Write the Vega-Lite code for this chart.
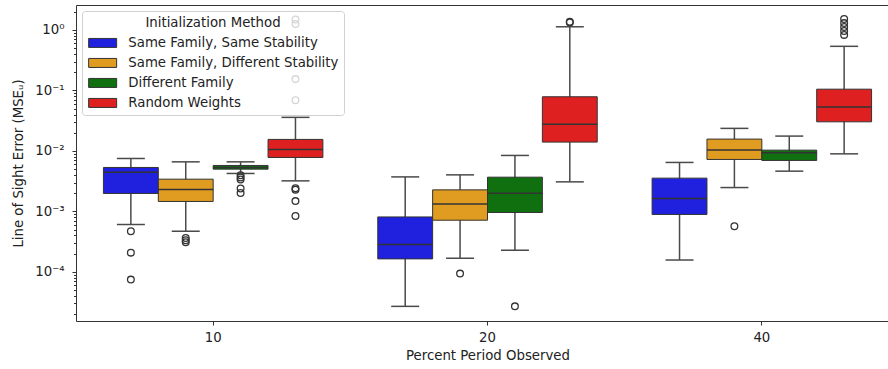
{
  "$schema": "https://vega.github.io/schema/vega-lite/v6.json",
  "width": 823,
  "height": 316,
  "autosize": {"type": "none"},
  "padding": {"left": 76, "top": 5, "right": 0, "bottom": 48},
  "config": {
    "font": "DejaVu Sans",
    "view": {"stroke": "#333", "strokeWidth": 1},
    "axis": {"grid": false, "domain": false, "labelFont": "DejaVu Sans", "titleFont": "DejaVu Sans", "labelFontSize": 13.3, "titleFontSize": 13.3, "titleFontWeight": "normal", "labelColor": "#222", "titleColor": "#222", "tickColor": "#333"},
    "legend": {"labelFont": "DejaVu Sans", "titleFont": "DejaVu Sans"}
  },
  "datasets": {
    "boxes": [
      {"pct": 10, "method": "Same Family, Same Stability", "lower": 0.000607, "q1": 0.00198, "median": 0.00446, "q3": 0.00533, "upper": 0.0075},
      {"pct": 10, "method": "Same Family, Different Stability", "lower": 0.00047, "q1": 0.00146, "median": 0.0023, "q3": 0.00341, "upper": 0.0066},
      {"pct": 10, "method": "Different Family", "lower": 0.00424, "q1": 0.005, "median": 0.00533, "q3": 0.00575, "upper": 0.0066},
      {"pct": 10, "method": "Random Weights", "lower": 0.0032, "q1": 0.0078, "median": 0.0106, "q3": 0.0155, "upper": 0.0359},
      {"pct": 20, "method": "Same Family, Same Stability", "lower": 0.0000269, "q1": 0.000164, "median": 0.000283, "q3": 0.00081, "upper": 0.00372},
      {"pct": 20, "method": "Same Family, Different Stability", "lower": 0.000168, "q1": 0.000715, "median": 0.00133, "q3": 0.00227, "upper": 0.00402},
      {"pct": 20, "method": "Different Family", "lower": 0.000228, "q1": 0.00096, "median": 0.002, "q3": 0.00368, "upper": 0.00842},
      {"pct": 20, "method": "Random Weights", "lower": 0.00308, "q1": 0.014, "median": 0.0275, "q3": 0.0787, "upper": 1.13},
      {"pct": 40, "method": "Same Family, Same Stability", "lower": 0.000157, "q1": 0.00089, "median": 0.00163, "q3": 0.00355, "upper": 0.00645},
      {"pct": 40, "method": "Same Family, Different Stability", "lower": 0.00248, "q1": 0.00723, "median": 0.0104, "q3": 0.0157, "upper": 0.0236},
      {"pct": 40, "method": "Different Family", "lower": 0.00463, "q1": 0.00696, "median": 0.0093, "q3": 0.0103, "upper": 0.0176},
      {"pct": 40, "method": "Random Weights", "lower": 0.00895, "q1": 0.0303, "median": 0.0531, "q3": 0.105, "upper": 0.537}
    ],
    "outliers": [
      {"pct": 10, "method": "Same Family, Same Stability", "value": 0.00047},
      {"pct": 10, "method": "Same Family, Same Stability", "value": 0.000208},
      {"pct": 10, "method": "Same Family, Same Stability", "value": 0.0000745},
      {"pct": 10, "method": "Same Family, Different Stability", "value": 0.000364},
      {"pct": 10, "method": "Same Family, Different Stability", "value": 0.000333},
      {"pct": 10, "method": "Same Family, Different Stability", "value": 0.000309},
      {"pct": 10, "method": "Different Family", "value": 0.00397},
      {"pct": 10, "method": "Different Family", "value": 0.00364},
      {"pct": 10, "method": "Different Family", "value": 0.00337},
      {"pct": 10, "method": "Different Family", "value": 0.00239},
      {"pct": 10, "method": "Different Family", "value": 0.00202},
      {"pct": 10, "method": "Random Weights", "value": 0.00242},
      {"pct": 10, "method": "Random Weights", "value": 0.00229},
      {"pct": 10, "method": "Random Weights", "value": 0.00148},
      {"pct": 10, "method": "Random Weights", "value": 0.00084},
      {"pct": 10, "method": "Random Weights", "value": 1.49},
      {"pct": 10, "method": "Random Weights", "value": 1.26},
      {"pct": 10, "method": "Random Weights", "value": 0.154},
      {"pct": 10, "method": "Random Weights", "value": 0.069},
      {"pct": 20, "method": "Same Family, Different Stability", "value": 0.0000936},
      {"pct": 20, "method": "Different Family", "value": 0.0000269},
      {"pct": 20, "method": "Random Weights", "value": 1.37},
      {"pct": 20, "method": "Random Weights", "value": 1.33},
      {"pct": 40, "method": "Same Family, Different Stability", "value": 0.000569},
      {"pct": 40, "method": "Random Weights", "value": 1.52},
      {"pct": 40, "method": "Random Weights", "value": 1.3},
      {"pct": 40, "method": "Random Weights", "value": 1.12},
      {"pct": 40, "method": "Random Weights", "value": 0.96},
      {"pct": 40, "method": "Random Weights", "value": 0.83}
    ]
  },
  "encoding": {
    "x": {"field": "pct", "type": "ordinal", "scale": {"paddingInner": 0, "paddingOuter": 0},
      "axis": {"title": "Percent Period Observed", "labelAngle": 0, "tickSize": 4, "labelPadding": 5, "titleY": 34, "titleBaseline": "middle"}},
    "xOffset": {"field": "method", "type": "nominal",
      "scale": {"domain": ["Same Family, Same Stability", "Same Family, Different Stability", "Different Family", "Random Weights"], "paddingInner": 0, "paddingOuter": 0.5}}
  },
  "layer": [
    {
      "data": {"name": "boxes"},
      "mark": {"type": "rule", "color": "#4a4a4a", "strokeWidth": 1.5},
      "encoding": {
        "y": {"field": "lower", "type": "quantitative",
          "scale": {"type": "log", "domain": [0.0000154, 2.59], "nice": false, "zero": false},
          "axis": {
            "title": "Line of Sight Error (MSEᵤ)",
            "titleX": -58, "titleBaseline": "middle",
            "values": [0.00002, 0.00003, 0.00004, 0.00005, 0.00006, 0.00007, 0.00008, 0.00009,
                       0.0001, 0.0002, 0.0003, 0.0004, 0.0005, 0.0006, 0.0007, 0.0008, 0.0009,
                       0.001, 0.002, 0.003, 0.004, 0.005, 0.006, 0.007, 0.008, 0.009,
                       0.01, 0.02, 0.03, 0.04, 0.05, 0.06, 0.07, 0.08, 0.09,
                       0.1, 0.2, 0.3, 0.4, 0.5, 0.6, 0.7, 0.8, 0.9, 1, 2],
            "labelExpr": "abs(log(datum.value)/LN10 - round(log(datum.value)/LN10)) > 0.001 ? '' : (round(log(datum.value)/LN10) == 0 ? '10⁰' : round(log(datum.value)/LN10) == -1 ? '10⁻¹' : round(log(datum.value)/LN10) == -2 ? '10⁻²' : round(log(datum.value)/LN10) == -3 ? '10⁻³' : '10⁻⁴')",
            "tickSize": {"condition": {"test": "abs(log(datum.value)/LN10 - round(log(datum.value)/LN10)) < 0.001", "value": 4}, "value": 2.5},
            "labelPadding": 8
          }},
        "y2": {"field": "upper"}
      }
    },
    {
      "data": {"name": "boxes"},
      "mark": {"type": "bar", "stroke": "#333", "strokeWidth": 1, "opacity": 1},
      "encoding": {
        "y": {"field": "q1", "type": "quantitative", "title": "Line of Sight Error (MSEᵤ)"},
        "y2": {"field": "q3"},
        "fill": {"field": "method", "type": "nominal",
          "scale": {"domain": ["Same Family, Same Stability", "Same Family, Different Stability", "Different Family", "Random Weights"],
                    "range": ["#2020df", "#df9c20", "#107010", "#df2020"]},
          "legend": {
            "title": "Initialization Method",
            "orient": "top-left", "offset": 6,
            "fillColor": "rgba(255,255,255,0.8)", "strokeColor": "#d0d0d0", "cornerRadius": 3,
            "padding": 5,
            "titleFontSize": 13.3, "titleFontWeight": "normal", "titleColor": "#222", "titleAnchor": "middle", "titlePadding": 7,
            "labelFontSize": 13.3, "labelColor": "#222", "labelOffset": 28, "labelLimit": 0,
            "symbolType": "M-1,-0.9H4.6V0.9H-1Z", "symbolSize": 100, "symbolStrokeColor": "#333", "symbolStrokeWidth": 1, "symbolOpacity": 1,
            "rowPadding": 5
          }}
      }
    },
    {
      "data": {"name": "boxes"},
      "mark": {"type": "tick", "color": "#333", "thickness": 1.5, "size": 54.8, "opacity": 1},
      "encoding": {
        "y": {"field": "median", "type": "quantitative", "title": "Line of Sight Error (MSEᵤ)"}
      }
    },
    {
      "data": {"name": "boxes"},
      "mark": {"type": "tick", "color": "#4a4a4a", "thickness": 1.5, "size": 28, "opacity": 1},
      "encoding": {
        "y": {"field": "upper", "type": "quantitative", "title": "Line of Sight Error (MSEᵤ)"}
      }
    },
    {
      "data": {"name": "boxes"},
      "mark": {"type": "tick", "color": "#4a4a4a", "thickness": 1.5, "size": 28, "opacity": 1},
      "encoding": {
        "y": {"field": "lower", "type": "quantitative", "title": "Line of Sight Error (MSEᵤ)"}
      }
    },
    {
      "data": {"name": "outliers"},
      "mark": {"type": "point", "shape": "circle", "filled": false, "stroke": "#333", "strokeWidth": 1.3, "size": 45, "opacity": 1},
      "encoding": {
        "y": {"field": "value", "type": "quantitative", "title": "Line of Sight Error (MSEᵤ)"}
      }
    }
  ]
}
